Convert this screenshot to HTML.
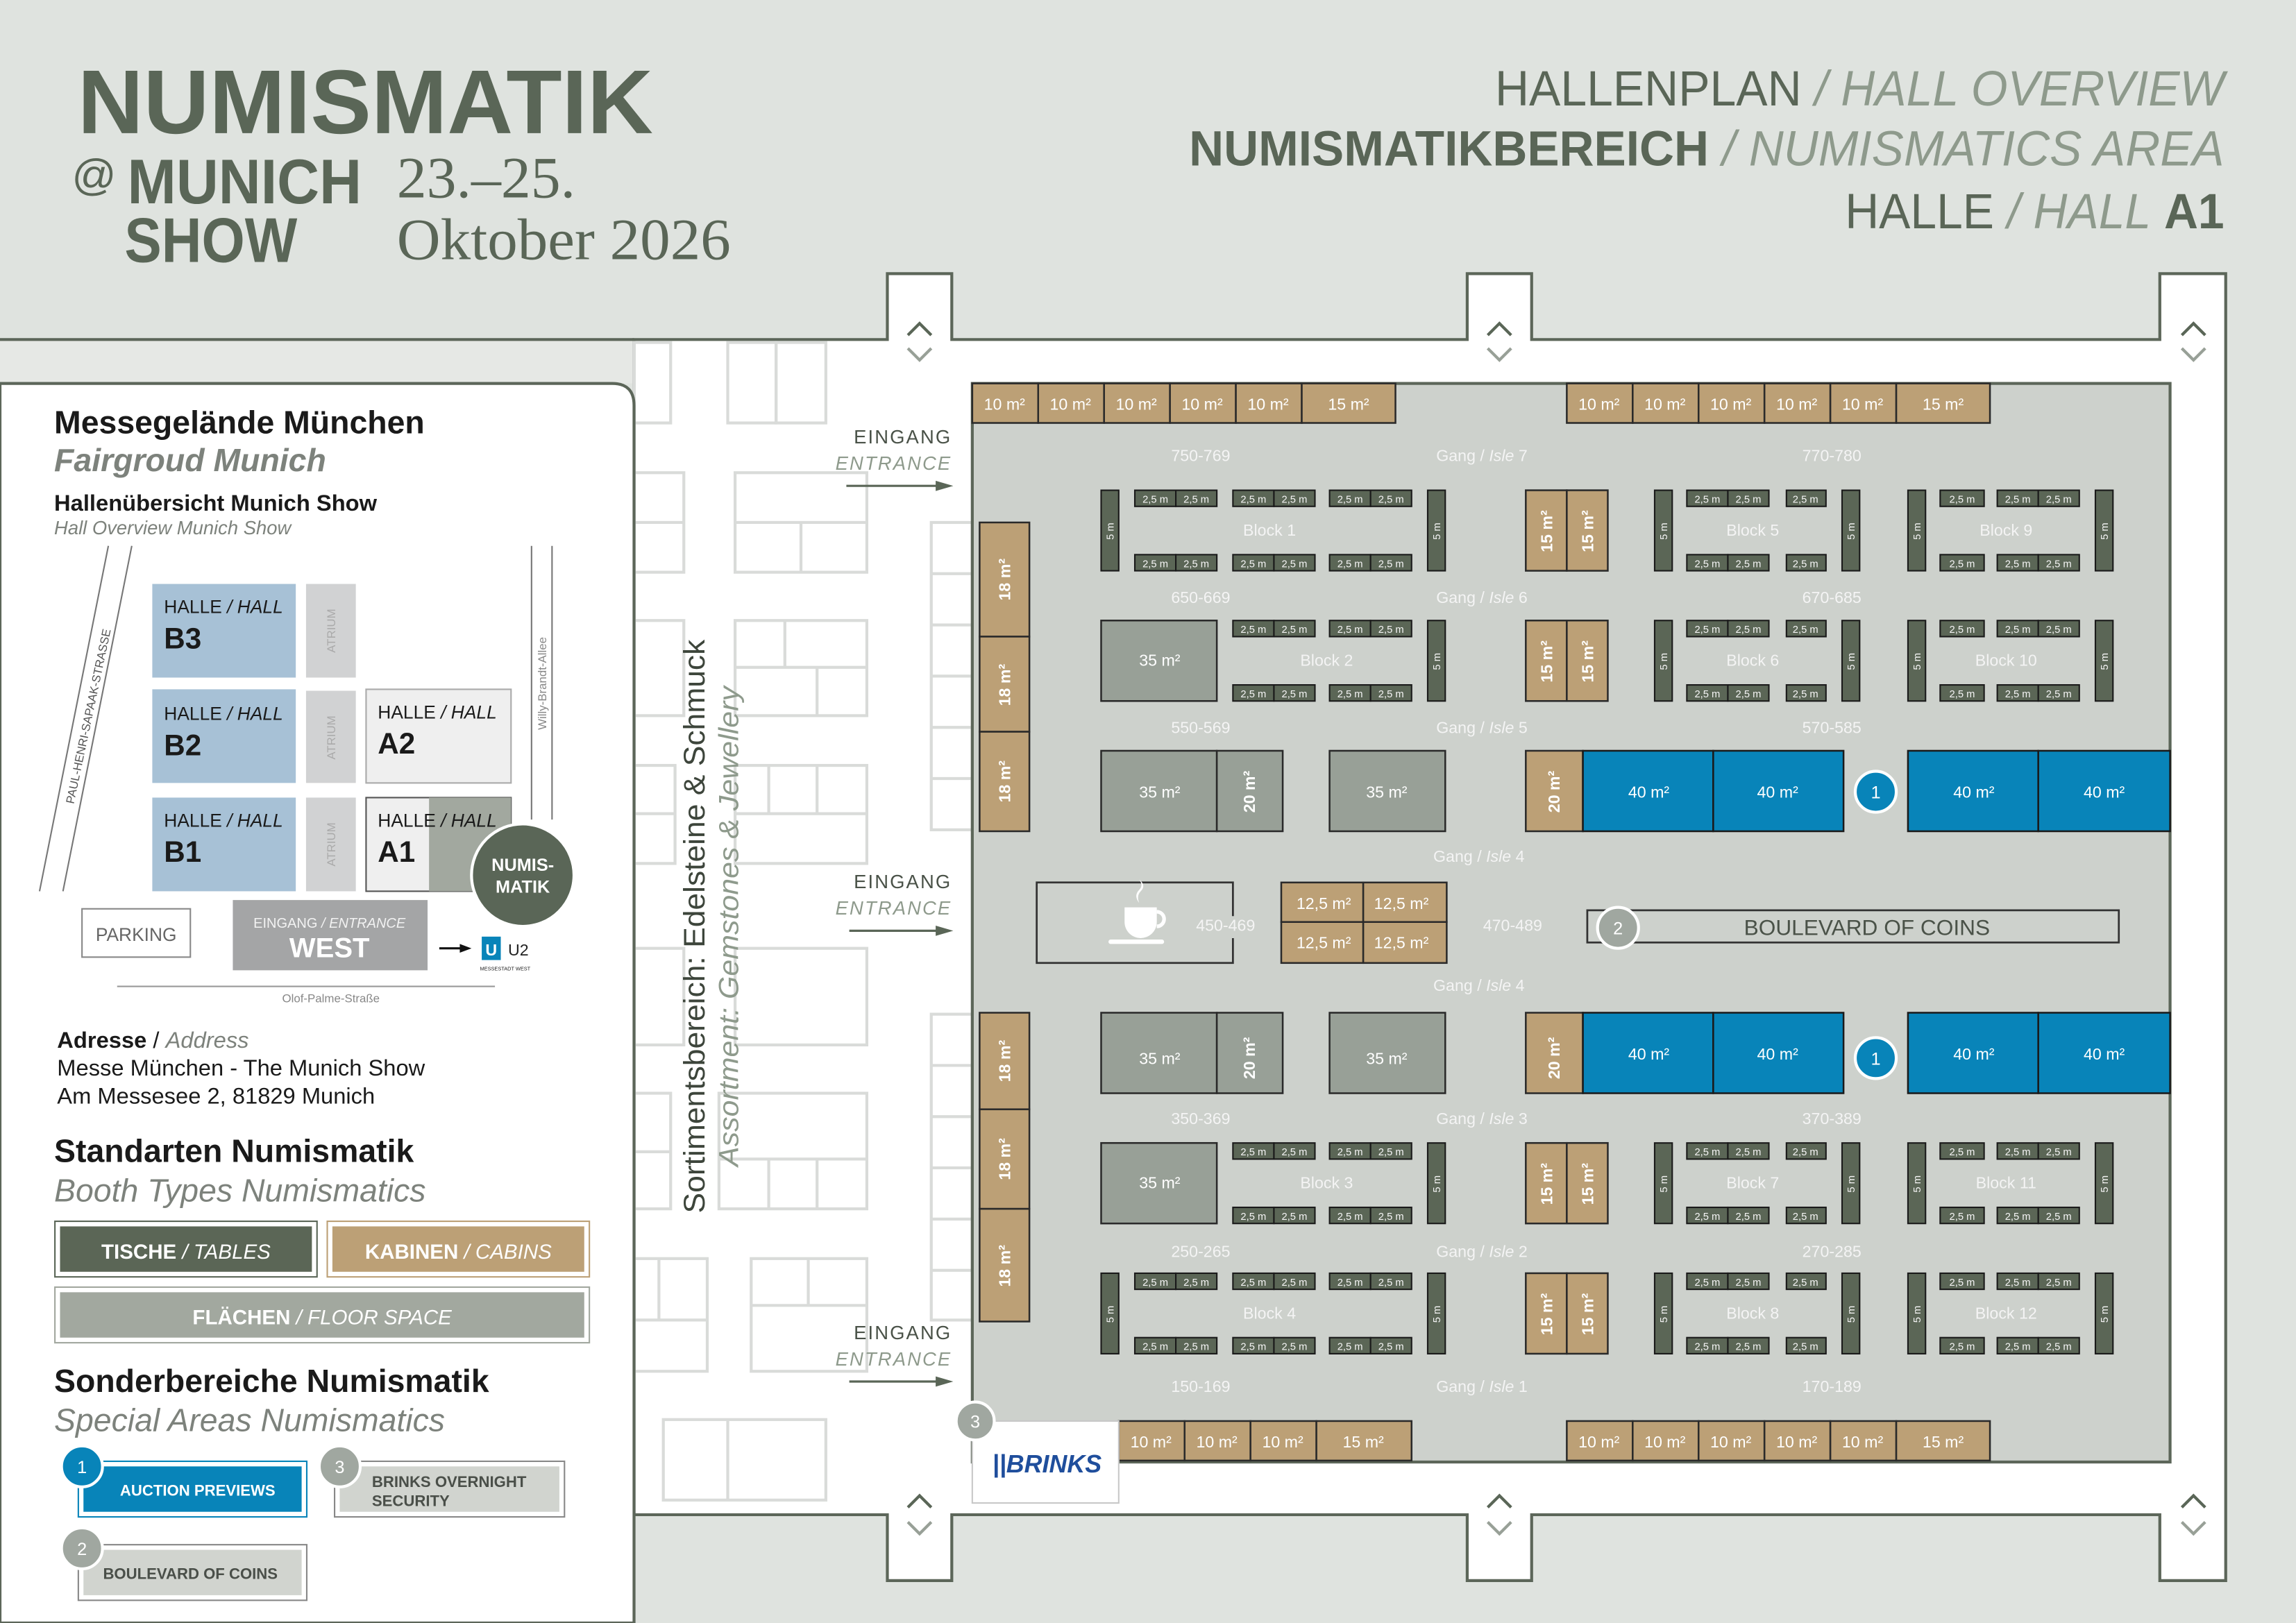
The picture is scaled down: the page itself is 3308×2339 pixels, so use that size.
<!DOCTYPE html>
<html><head><meta charset="utf-8"><style>
html,body{margin:0;padding:0;background:#dfe3df}
svg{display:block}
text{font-family:"Liberation Sans",sans-serif}
.n{font-family:"Liberation Sans Narrow","Liberation Sans",sans-serif}
.t{fill:#f4f4f4;font-size:7px;text-anchor:middle}
.c{fill:#5b6656;stroke:#1a1a1a;stroke-width:1}
.tan{fill:#bca076;stroke:#2a2a2a;stroke-width:1.2}
.fs{fill:#98a097;stroke:#2a2a2a;stroke-width:1.2}
.bl{fill:#0884b9;stroke:#1a1a1a;stroke-width:1.2}
.lb{fill:#f4f4f4;font-size:11px;text-anchor:middle}
.wl{fill:#fff;font-size:11px;text-anchor:middle}
.fr{fill:none;stroke:#d9dbd9;stroke-width:2}
</style></head><body>
<svg width="3308" height="2339" viewBox="0 0 1568 1109" preserveAspectRatio="none" xmlns="http://www.w3.org/2000/svg">
<rect x="0" y="0" width="1568" height="1109" fill="#dfe3df"/>
<!-- header -->
<text x="53" y="91" font-size="62" font-weight="bold" fill="#5a6657" class="n" textLength="393" lengthAdjust="spacingAndGlyphs">NUMISMATIK</text>
<text x="49" y="130" font-size="30" fill="#5a6657">@</text>
<text x="87" y="139" font-size="43" font-weight="bold" fill="#5a6657" class="n" textLength="160" lengthAdjust="spacingAndGlyphs">MUNICH</text>
<text x="85" y="179" font-size="43" font-weight="bold" fill="#5a6657" class="n" textLength="118" lengthAdjust="spacingAndGlyphs">SHOW</text>
<text x="271" y="135" font-size="40" fill="#5a6657" font-family="Liberation Serif" style="font-family:'Liberation Serif',serif" textLength="122" lengthAdjust="spacingAndGlyphs">23.–25.</text>
<text x="271" y="177" font-size="40" fill="#5a6657" style="font-family:'Liberation Serif',serif" textLength="228" lengthAdjust="spacingAndGlyphs">Oktober 2026</text>
<text x="1519" y="72" font-size="34" text-anchor="end" class="n" fill="#5a6657" textLength="498" lengthAdjust="spacingAndGlyphs">HALLENPLAN <tspan fill="#8e9a8c" font-style="italic">/ HALL OVERVIEW</tspan></text>
<text x="1519" y="113" font-size="34" text-anchor="end" class="n" fill="#5a6657" textLength="707" lengthAdjust="spacingAndGlyphs"><tspan font-weight="bold">NUMISMATIKBEREICH</tspan> <tspan fill="#8e9a8c" font-style="italic">/ NUMISMATICS AREA</tspan></text>
<text x="1519" y="156" font-size="34" text-anchor="end" class="n" fill="#5a6657" textLength="259" lengthAdjust="spacingAndGlyphs">HALLE <tspan fill="#8e9a8c" font-style="italic">/ HALL</tspan> <tspan font-weight="bold">A1</tspan></text>

<!-- top strip on left -->
<rect x="0" y="233" width="433" height="29" fill="#e6e8e5"/>
<line x1="0" y1="232" x2="433" y2="232" stroke="#5c6659" stroke-width="2"/>
<!-- hall white -->
<path d="M433,232 H606 V187 H650 V232 H1002 V187 H1046 V232 H1475 V187 H1520 V1080 H1475 V1035 H1046 V1080 H1002 V1035 H650 V1080 H606 V1035 H433 Z" fill="#fff" stroke="#5c6659" stroke-width="2"/>
<!-- chevrons -->
<g fill="none" stroke-width="2">
<polyline points="620,229 628,221 636,229" stroke="#5a6657"/><polyline points="620,238 628,246 636,238" stroke="#98a097"/>
<polyline points="1016,229 1024,221 1032,229" stroke="#5a6657"/><polyline points="1016,238 1024,246 1032,238" stroke="#98a097"/>
<polyline points="1490,229 1498,221 1506,229" stroke="#5a6657"/><polyline points="1490,238 1498,246 1506,238" stroke="#98a097"/>
<polyline points="620,1030 628,1022 636,1030" stroke="#5a6657"/><polyline points="620,1040 628,1048 636,1040" stroke="#98a097"/>
<polyline points="1016,1030 1024,1022 1032,1030" stroke="#5a6657"/><polyline points="1016,1040 1024,1048 1032,1040" stroke="#98a097"/>
<polyline points="1490,1030 1498,1022 1506,1030" stroke="#5a6657"/><polyline points="1490,1040 1498,1048 1506,1040" stroke="#98a097"/>
</g>
<!-- faint corridor rects -->
<g class="fr">
<rect x="433" y="234" width="25" height="55"/><rect x="497" y="234" width="33" height="55"/><rect x="530" y="234" width="34" height="55"/>
<rect x="433" y="323" width="34" height="68"/><line x1="433" y1="357" x2="467" y2="357"/>
<rect x="502" y="323" width="90" height="68"/><line x1="502" y1="357" x2="592" y2="357"/><line x1="547" y1="357" x2="547" y2="391"/>
<rect x="433" y="424" width="34" height="65"/>
<rect x="502" y="424" width="90" height="65"/><line x1="502" y1="456" x2="592" y2="456"/><line x1="536" y1="424" x2="536" y2="456"/><line x1="558" y1="456" x2="558" y2="489"/>
<rect x="433" y="523" width="28" height="67"/><line x1="433" y1="556" x2="461" y2="556"/>
<rect x="502" y="523" width="90" height="67"/><line x1="502" y1="556" x2="592" y2="556"/><line x1="525" y1="523" x2="525" y2="556"/><line x1="558" y1="523" x2="558" y2="556"/>
<rect x="433" y="648" width="34" height="66"/><rect x="502" y="648" width="90" height="66"/>
<rect x="433" y="747" width="25" height="79"/><line x1="433" y1="787" x2="458" y2="787"/>
<rect x="491" y="747" width="101" height="79"/><line x1="491" y1="792" x2="592" y2="792"/><line x1="525" y1="792" x2="525" y2="826"/><line x1="558" y1="792" x2="558" y2="826"/>
<rect x="433" y="860" width="50" height="77"/><line x1="433" y1="902" x2="483" y2="902"/><line x1="450" y1="860" x2="450" y2="902"/>
<rect x="513" y="860" width="79" height="77"/><line x1="513" y1="892" x2="592" y2="892"/><line x1="552" y1="860" x2="552" y2="892"/>
<rect x="453" y="970" width="111" height="55"/><line x1="497" y1="970" x2="497" y2="1025"/>
<rect x="636" y="357" width="28" height="210"/><line x1="636" y1="392" x2="664" y2="392"/><line x1="636" y1="427" x2="664" y2="427"/><line x1="636" y1="462" x2="664" y2="462"/><line x1="636" y1="497" x2="664" y2="497"/><line x1="636" y1="532" x2="664" y2="532"/>
<rect x="636" y="693" width="28" height="209"/><line x1="636" y1="728" x2="664" y2="728"/><line x1="636" y1="763" x2="664" y2="763"/><line x1="636" y1="798" x2="664" y2="798"/><line x1="636" y1="833" x2="664" y2="833"/><line x1="636" y1="868" x2="664" y2="868"/>
</g>
<text transform="translate(481,633) rotate(-90)" text-anchor="middle" font-size="20" fill="#3d453b" class="n" textLength="392" lengthAdjust="spacingAndGlyphs">Sortimentsbereich: Edelsteine &amp; Schmuck</text>
<text transform="translate(504,633) rotate(-90)" text-anchor="middle" font-size="19" fill="#8e9a8c" font-style="italic" class="n" textLength="328" lengthAdjust="spacingAndGlyphs">Assortment: Gemstones &amp; Jewellery</text>
<!-- entrances -->
<g font-size="13" text-anchor="end" fill="#4a5248" letter-spacing="1">
<text x="650" y="303">EINGANG</text><text x="650" y="321" font-style="italic" fill="#8e9a8c">ENTRANCE</text>
<text x="650" y="607">EINGANG</text><text x="650" y="625" font-style="italic" fill="#8e9a8c">ENTRANCE</text>
<text x="650" y="915">EINGANG</text><text x="650" y="933" font-style="italic" fill="#8e9a8c">ENTRANCE</text>
</g>
<g stroke="#5a6657" stroke-width="1.5"><line x1="578" y1="332" x2="642" y2="332"/><line x1="580" y1="636" x2="642" y2="636"/><line x1="580" y1="944" x2="642" y2="944"/></g>
<g fill="#5a6657"><polygon points="651,332 639,328.5 639,335.5"/><polygon points="651,636 639,632.5 639,639.5"/><polygon points="651,944 639,940.5 639,947.5"/></g>

<!-- floor -->
<rect x="664" y="262" width="818" height="737" fill="#cdd1cc" stroke="#5c6659" stroke-width="2"/>
<!-- top cabins -->
<g class="tan"><rect x="664" y="262" width="45" height="27"/><rect x="709" y="262" width="45" height="27"/><rect x="754" y="262" width="45" height="27"/><rect x="799" y="262" width="45" height="27"/><rect x="844" y="262" width="45" height="27"/><rect x="889" y="262" width="64" height="27"/>
<rect x="1070" y="262" width="45" height="27"/><rect x="1115" y="262" width="45" height="27"/><rect x="1160" y="262" width="45" height="27"/><rect x="1205" y="262" width="45" height="27"/><rect x="1250" y="262" width="45" height="27"/><rect x="1295" y="262" width="64" height="27"/>
<rect x="764" y="971" width="45" height="27"/><rect x="809" y="971" width="45" height="27"/><rect x="854" y="971" width="45" height="27"/><rect x="899" y="971" width="65" height="27"/>
<rect x="1070" y="971" width="45" height="27"/><rect x="1115" y="971" width="45" height="27"/><rect x="1160" y="971" width="45" height="27"/><rect x="1205" y="971" width="45" height="27"/><rect x="1250" y="971" width="45" height="27"/><rect x="1295" y="971" width="64" height="27"/>
<rect x="669" y="357" width="34" height="78"/><rect x="669" y="435" width="34" height="65"/><rect x="669" y="500" width="34" height="68"/>
<rect x="669" y="692" width="34" height="66"/><rect x="669" y="758" width="34" height="68"/><rect x="669" y="826" width="34" height="77"/>
</g>
<g class="wl n" font-size="12">
<text x="686" y="280">10 m²</text><text x="731" y="280">10 m²</text><text x="776" y="280">10 m²</text><text x="821" y="280">10 m²</text><text x="866" y="280">10 m²</text><text x="921" y="280">15 m²</text>
<text x="1092" y="280">10 m²</text><text x="1137" y="280">10 m²</text><text x="1182" y="280">10 m²</text><text x="1227" y="280">10 m²</text><text x="1272" y="280">10 m²</text><text x="1327" y="280">15 m²</text>
<text x="786" y="989">10 m²</text><text x="831" y="989">10 m²</text><text x="876" y="989">10 m²</text><text x="931" y="989">15 m²</text>
<text x="1092" y="989">10 m²</text><text x="1137" y="989">10 m²</text><text x="1182" y="989">10 m²</text><text x="1227" y="989">10 m²</text><text x="1272" y="989">10 m²</text><text x="1327" y="989">15 m²</text>
</g>
<g class="wl" font-size="11" font-weight="bold">
<text transform="translate(690,396) rotate(-90)">18 m²</text><text transform="translate(690,468) rotate(-90)">18 m²</text><text transform="translate(690,534) rotate(-90)">18 m²</text>
<text transform="translate(690,725) rotate(-90)">18 m²</text><text transform="translate(690,792) rotate(-90)">18 m²</text><text transform="translate(690,865) rotate(-90)">18 m²</text>
</g>
<!-- BRINKS -->
<rect x="664" y="971" width="100" height="56" fill="#fff" stroke="#c8c8c8" stroke-width="1"/>
<text x="715" y="1006" text-anchor="middle" font-size="17" font-weight="bold" fill="#1f4e9c" font-style="italic" class="n">||BRINKS</text>
<circle cx="666" cy="971" r="13" fill="#a0a7a0" stroke="#fff" stroke-width="2"/><text x="666" y="975.5" text-anchor="middle" font-size="12" fill="#fff">3</text>

<!-- aisle labels -->
<g class="lb n">
<text x="820" y="315">750-769</text><text x="1012" y="315">Gang / <tspan font-style="italic">Isle</tspan> 7</text><text x="1251" y="315">770-780</text>
<text x="820" y="412">650-669</text><text x="1012" y="412">Gang / <tspan font-style="italic">Isle</tspan> 6</text><text x="1251" y="412">670-685</text>
<text x="820" y="501">550-569</text><text x="1012" y="501">Gang / <tspan font-style="italic">Isle</tspan> 5</text><text x="1251" y="501">570-585</text>
<text x="1010" y="589">Gang / <tspan font-style="italic">Isle</tspan> 4</text>
<text x="837" y="636">450-469</text><text x="1033" y="636">470-489</text>
<text x="1010" y="677">Gang / <tspan font-style="italic">Isle</tspan> 4</text>
<text x="820" y="768">350-369</text><text x="1012" y="768">Gang / <tspan font-style="italic">Isle</tspan> 3</text><text x="1251" y="768">370-389</text>
<text x="820" y="859">250-265</text><text x="1012" y="859">Gang / <tspan font-style="italic">Isle</tspan> 2</text><text x="1251" y="859">270-285</text>
<text x="820" y="951">150-169</text><text x="1012" y="951">Gang / <tspan font-style="italic">Isle</tspan> 1</text><text x="1251" y="951">170-189</text>
</g>

<!-- ROW TYPE A: Block 1 -->
<g transform="translate(0,335)">
<rect class="c" x="752" y="0" width="12" height="55"/><rect class="c" x="975" y="0" width="12" height="55"/>
<rect class="c" x="775" y="0" width="28" height="11"/><rect class="c" x="803" y="0" width="28" height="11"/><rect class="c" x="842" y="0" width="28" height="11"/><rect class="c" x="870" y="0" width="28" height="11"/><rect class="c" x="908" y="0" width="28" height="11"/><rect class="c" x="936" y="0" width="28" height="11"/>
<rect class="c" x="775" y="44" width="28" height="11"/><rect class="c" x="803" y="44" width="28" height="11"/><rect class="c" x="842" y="44" width="28" height="11"/><rect class="c" x="870" y="44" width="28" height="11"/><rect class="c" x="908" y="44" width="28" height="11"/><rect class="c" x="936" y="44" width="28" height="11"/>
<g class="t n"><text x="789" y="8.5">2,5 m</text><text x="817" y="8.5">2,5 m</text><text x="856" y="8.5">2,5 m</text><text x="884" y="8.5">2,5 m</text><text x="922" y="8.5">2,5 m</text><text x="950" y="8.5">2,5 m</text>
<text x="789" y="52.5">2,5 m</text><text x="817" y="52.5">2,5 m</text><text x="856" y="52.5">2,5 m</text><text x="884" y="52.5">2,5 m</text><text x="922" y="52.5">2,5 m</text><text x="950" y="52.5">2,5 m</text></g>
<text class="t" transform="translate(760.5,28) rotate(-90)">5 m</text><text class="t" transform="translate(983.5,28) rotate(-90)">5 m</text>
<text class="lb n" x="867" y="31">Block 1</text>
</g>
<g transform="translate(0,870)">
<rect class="c" x="752" y="0" width="12" height="55"/><rect class="c" x="975" y="0" width="12" height="55"/>
<rect class="c" x="775" y="0" width="28" height="11"/><rect class="c" x="803" y="0" width="28" height="11"/><rect class="c" x="842" y="0" width="28" height="11"/><rect class="c" x="870" y="0" width="28" height="11"/><rect class="c" x="908" y="0" width="28" height="11"/><rect class="c" x="936" y="0" width="28" height="11"/>
<rect class="c" x="775" y="44" width="28" height="11"/><rect class="c" x="803" y="44" width="28" height="11"/><rect class="c" x="842" y="44" width="28" height="11"/><rect class="c" x="870" y="44" width="28" height="11"/><rect class="c" x="908" y="44" width="28" height="11"/><rect class="c" x="936" y="44" width="28" height="11"/>
<g class="t n"><text x="789" y="8.5">2,5 m</text><text x="817" y="8.5">2,5 m</text><text x="856" y="8.5">2,5 m</text><text x="884" y="8.5">2,5 m</text><text x="922" y="8.5">2,5 m</text><text x="950" y="8.5">2,5 m</text>
<text x="789" y="52.5">2,5 m</text><text x="817" y="52.5">2,5 m</text><text x="856" y="52.5">2,5 m</text><text x="884" y="52.5">2,5 m</text><text x="922" y="52.5">2,5 m</text><text x="950" y="52.5">2,5 m</text></g>
<text class="t" transform="translate(760.5,28) rotate(-90)">5 m</text><text class="t" transform="translate(983.5,28) rotate(-90)">5 m</text>
<text class="lb n" x="867" y="31">Block 4</text>
</g>
<!-- ROW TYPE B -->
<g transform="translate(0,424)">
<rect class="fs" x="752" y="0" width="79" height="55"/><text class="wl n" x="792" y="31">35 m²</text>
<rect class="c" x="975" y="0" width="12" height="55"/>
<rect class="c" x="842" y="0" width="28" height="11"/><rect class="c" x="870" y="0" width="28" height="11"/><rect class="c" x="908" y="0" width="28" height="11"/><rect class="c" x="936" y="0" width="28" height="11"/>
<rect class="c" x="842" y="44" width="28" height="11"/><rect class="c" x="870" y="44" width="28" height="11"/><rect class="c" x="908" y="44" width="28" height="11"/><rect class="c" x="936" y="44" width="28" height="11"/>
<g class="t n"><text x="856" y="8.5">2,5 m</text><text x="884" y="8.5">2,5 m</text><text x="922" y="8.5">2,5 m</text><text x="950" y="8.5">2,5 m</text>
<text x="856" y="52.5">2,5 m</text><text x="884" y="52.5">2,5 m</text><text x="922" y="52.5">2,5 m</text><text x="950" y="52.5">2,5 m</text></g>
<text class="t" transform="translate(983.5,28) rotate(-90)">5 m</text>
<text class="lb n" x="906" y="31">Block 2</text>
</g>
<g transform="translate(0,781)">
<rect class="fs" x="752" y="0" width="79" height="55"/><text class="wl n" x="792" y="31">35 m²</text>
<rect class="c" x="975" y="0" width="12" height="55"/>
<rect class="c" x="842" y="0" width="28" height="11"/><rect class="c" x="870" y="0" width="28" height="11"/><rect class="c" x="908" y="0" width="28" height="11"/><rect class="c" x="936" y="0" width="28" height="11"/>
<rect class="c" x="842" y="44" width="28" height="11"/><rect class="c" x="870" y="44" width="28" height="11"/><rect class="c" x="908" y="44" width="28" height="11"/><rect class="c" x="936" y="44" width="28" height="11"/>
<g class="t n"><text x="856" y="8.5">2,5 m</text><text x="884" y="8.5">2,5 m</text><text x="922" y="8.5">2,5 m</text><text x="950" y="8.5">2,5 m</text>
<text x="856" y="52.5">2,5 m</text><text x="884" y="52.5">2,5 m</text><text x="922" y="52.5">2,5 m</text><text x="950" y="52.5">2,5 m</text></g>
<text class="t" transform="translate(983.5,28) rotate(-90)">5 m</text>
<text class="lb n" x="906" y="31">Block 3</text>
</g>

<!-- RIGHT BLOCKS rows 335,424,781,870 -->
<g transform="translate(0,335)">
<rect class="tan" x="1042" y="0" width="28" height="55"/><rect class="tan" x="1070" y="0" width="28" height="55"/>
<text class="wl" font-weight="bold" font-size="10" transform="translate(1060,28) rotate(-90)">15 m²</text><text class="wl" font-weight="bold" font-size="10" transform="translate(1088,28) rotate(-90)">15 m²</text>
<rect class="c" x="1130" y="0" width="12" height="55"/><rect class="c" x="1258" y="0" width="12" height="55"/><rect class="c" x="1303" y="0" width="12" height="55"/><rect class="c" x="1431" y="0" width="12" height="55"/>
<rect class="c" x="1152" y="0" width="28" height="11"/><rect class="c" x="1180" y="0" width="28" height="11"/><rect class="c" x="1220" y="0" width="27" height="11"/><rect class="c" x="1325" y="0" width="30" height="11"/><rect class="c" x="1364" y="0" width="28" height="11"/><rect class="c" x="1392" y="0" width="28" height="11"/>
<rect class="c" x="1152" y="44" width="28" height="11"/><rect class="c" x="1180" y="44" width="28" height="11"/><rect class="c" x="1220" y="44" width="27" height="11"/><rect class="c" x="1325" y="44" width="30" height="11"/><rect class="c" x="1364" y="44" width="28" height="11"/><rect class="c" x="1392" y="44" width="28" height="11"/>
<g class="t n"><text x="1166" y="8.5">2,5 m</text><text x="1194" y="8.5">2,5 m</text><text x="1233" y="8.5">2,5 m</text><text x="1340" y="8.5">2,5 m</text><text x="1378" y="8.5">2,5 m</text><text x="1406" y="8.5">2,5 m</text>
<text x="1166" y="52.5">2,5 m</text><text x="1194" y="52.5">2,5 m</text><text x="1233" y="52.5">2,5 m</text><text x="1340" y="52.5">2,5 m</text><text x="1378" y="52.5">2,5 m</text><text x="1406" y="52.5">2,5 m</text></g>
<text class="t" transform="translate(1138.5,28) rotate(-90)">5 m</text><text class="t" transform="translate(1266.5,28) rotate(-90)">5 m</text><text class="t" transform="translate(1311.5,28) rotate(-90)">5 m</text><text class="t" transform="translate(1439.5,28) rotate(-90)">5 m</text>
<text class="lb n" x="1197" y="31">Block 5</text><text class="lb n" x="1370" y="31">Block 9</text>
</g>
<g transform="translate(0,424)">
<rect class="tan" x="1042" y="0" width="28" height="55"/><rect class="tan" x="1070" y="0" width="28" height="55"/>
<text class="wl" font-weight="bold" font-size="10" transform="translate(1060,28) rotate(-90)">15 m²</text><text class="wl" font-weight="bold" font-size="10" transform="translate(1088,28) rotate(-90)">15 m²</text>
<rect class="c" x="1130" y="0" width="12" height="55"/><rect class="c" x="1258" y="0" width="12" height="55"/><rect class="c" x="1303" y="0" width="12" height="55"/><rect class="c" x="1431" y="0" width="12" height="55"/>
<rect class="c" x="1152" y="0" width="28" height="11"/><rect class="c" x="1180" y="0" width="28" height="11"/><rect class="c" x="1220" y="0" width="27" height="11"/><rect class="c" x="1325" y="0" width="30" height="11"/><rect class="c" x="1364" y="0" width="28" height="11"/><rect class="c" x="1392" y="0" width="28" height="11"/>
<rect class="c" x="1152" y="44" width="28" height="11"/><rect class="c" x="1180" y="44" width="28" height="11"/><rect class="c" x="1220" y="44" width="27" height="11"/><rect class="c" x="1325" y="44" width="30" height="11"/><rect class="c" x="1364" y="44" width="28" height="11"/><rect class="c" x="1392" y="44" width="28" height="11"/>
<g class="t n"><text x="1166" y="8.5">2,5 m</text><text x="1194" y="8.5">2,5 m</text><text x="1233" y="8.5">2,5 m</text><text x="1340" y="8.5">2,5 m</text><text x="1378" y="8.5">2,5 m</text><text x="1406" y="8.5">2,5 m</text>
<text x="1166" y="52.5">2,5 m</text><text x="1194" y="52.5">2,5 m</text><text x="1233" y="52.5">2,5 m</text><text x="1340" y="52.5">2,5 m</text><text x="1378" y="52.5">2,5 m</text><text x="1406" y="52.5">2,5 m</text></g>
<text class="t" transform="translate(1138.5,28) rotate(-90)">5 m</text><text class="t" transform="translate(1266.5,28) rotate(-90)">5 m</text><text class="t" transform="translate(1311.5,28) rotate(-90)">5 m</text><text class="t" transform="translate(1439.5,28) rotate(-90)">5 m</text>
<text class="lb n" x="1197" y="31">Block 6</text><text class="lb n" x="1370" y="31">Block 10</text>
</g>
<g transform="translate(0,781)">
<rect class="tan" x="1042" y="0" width="28" height="55"/><rect class="tan" x="1070" y="0" width="28" height="55"/>
<text class="wl" font-weight="bold" font-size="10" transform="translate(1060,28) rotate(-90)">15 m²</text><text class="wl" font-weight="bold" font-size="10" transform="translate(1088,28) rotate(-90)">15 m²</text>
<rect class="c" x="1130" y="0" width="12" height="55"/><rect class="c" x="1258" y="0" width="12" height="55"/><rect class="c" x="1303" y="0" width="12" height="55"/><rect class="c" x="1431" y="0" width="12" height="55"/>
<rect class="c" x="1152" y="0" width="28" height="11"/><rect class="c" x="1180" y="0" width="28" height="11"/><rect class="c" x="1220" y="0" width="27" height="11"/><rect class="c" x="1325" y="0" width="30" height="11"/><rect class="c" x="1364" y="0" width="28" height="11"/><rect class="c" x="1392" y="0" width="28" height="11"/>
<rect class="c" x="1152" y="44" width="28" height="11"/><rect class="c" x="1180" y="44" width="28" height="11"/><rect class="c" x="1220" y="44" width="27" height="11"/><rect class="c" x="1325" y="44" width="30" height="11"/><rect class="c" x="1364" y="44" width="28" height="11"/><rect class="c" x="1392" y="44" width="28" height="11"/>
<g class="t n"><text x="1166" y="8.5">2,5 m</text><text x="1194" y="8.5">2,5 m</text><text x="1233" y="8.5">2,5 m</text><text x="1340" y="8.5">2,5 m</text><text x="1378" y="8.5">2,5 m</text><text x="1406" y="8.5">2,5 m</text>
<text x="1166" y="52.5">2,5 m</text><text x="1194" y="52.5">2,5 m</text><text x="1233" y="52.5">2,5 m</text><text x="1340" y="52.5">2,5 m</text><text x="1378" y="52.5">2,5 m</text><text x="1406" y="52.5">2,5 m</text></g>
<text class="t" transform="translate(1138.5,28) rotate(-90)">5 m</text><text class="t" transform="translate(1266.5,28) rotate(-90)">5 m</text><text class="t" transform="translate(1311.5,28) rotate(-90)">5 m</text><text class="t" transform="translate(1439.5,28) rotate(-90)">5 m</text>
<text class="lb n" x="1197" y="31">Block 7</text><text class="lb n" x="1370" y="31">Block 11</text>
</g>
<g transform="translate(0,870)">
<rect class="tan" x="1042" y="0" width="28" height="55"/><rect class="tan" x="1070" y="0" width="28" height="55"/>
<text class="wl" font-weight="bold" font-size="10" transform="translate(1060,28) rotate(-90)">15 m²</text><text class="wl" font-weight="bold" font-size="10" transform="translate(1088,28) rotate(-90)">15 m²</text>
<rect class="c" x="1130" y="0" width="12" height="55"/><rect class="c" x="1258" y="0" width="12" height="55"/><rect class="c" x="1303" y="0" width="12" height="55"/><rect class="c" x="1431" y="0" width="12" height="55"/>
<rect class="c" x="1152" y="0" width="28" height="11"/><rect class="c" x="1180" y="0" width="28" height="11"/><rect class="c" x="1220" y="0" width="27" height="11"/><rect class="c" x="1325" y="0" width="30" height="11"/><rect class="c" x="1364" y="0" width="28" height="11"/><rect class="c" x="1392" y="0" width="28" height="11"/>
<rect class="c" x="1152" y="44" width="28" height="11"/><rect class="c" x="1180" y="44" width="28" height="11"/><rect class="c" x="1220" y="44" width="27" height="11"/><rect class="c" x="1325" y="44" width="30" height="11"/><rect class="c" x="1364" y="44" width="28" height="11"/><rect class="c" x="1392" y="44" width="28" height="11"/>
<g class="t n"><text x="1166" y="8.5">2,5 m</text><text x="1194" y="8.5">2,5 m</text><text x="1233" y="8.5">2,5 m</text><text x="1340" y="8.5">2,5 m</text><text x="1378" y="8.5">2,5 m</text><text x="1406" y="8.5">2,5 m</text>
<text x="1166" y="52.5">2,5 m</text><text x="1194" y="52.5">2,5 m</text><text x="1233" y="52.5">2,5 m</text><text x="1340" y="52.5">2,5 m</text><text x="1378" y="52.5">2,5 m</text><text x="1406" y="52.5">2,5 m</text></g>
<text class="t" transform="translate(1138.5,28) rotate(-90)">5 m</text><text class="t" transform="translate(1266.5,28) rotate(-90)">5 m</text><text class="t" transform="translate(1311.5,28) rotate(-90)">5 m</text><text class="t" transform="translate(1439.5,28) rotate(-90)">5 m</text>
<text class="lb n" x="1197" y="31">Block 8</text><text class="lb n" x="1370" y="31">Block 12</text>
</g>

<!-- rows 3 and 4 -->
<g transform="translate(0,513)">
<rect class="fs" x="752" y="0" width="79" height="55"/><rect class="fs" x="831" y="0" width="45" height="55"/><rect class="fs" x="908" y="0" width="79" height="55"/>
<text class="wl n" x="792" y="32">35 m²</text><text class="wl n" x="947" y="32">35 m²</text>
<text class="wl" font-weight="bold" font-size="11" transform="translate(857,28) rotate(-90)">20 m²</text>
<rect class="tan" x="1042" y="0" width="39" height="55"/>
<text class="wl" font-weight="bold" font-size="11" transform="translate(1065,28) rotate(-90)">20 m²</text>
<rect class="bl" x="1081" y="0" width="89" height="55"/><rect class="bl" x="1170" y="0" width="89" height="55"/><rect class="bl" x="1303" y="0" width="89" height="55"/><rect class="bl" x="1392" y="0" width="90" height="55"/>
<text class="wl n" x="1126" y="32">40 m²</text><text class="wl n" x="1214" y="32">40 m²</text><text class="wl n" x="1348" y="32">40 m²</text><text class="wl n" x="1437" y="32">40 m²</text>
<circle cx="1281" cy="28" r="14" fill="#0884b9" stroke="#fff" stroke-width="2"/><text x="1281" y="32.5" text-anchor="middle" font-size="12" fill="#fff">1</text>
</g>
<g transform="translate(0,692)">
<rect class="fs" x="752" y="0" width="79" height="55"/><rect class="fs" x="831" y="0" width="45" height="55"/><rect class="fs" x="908" y="0" width="79" height="55"/>
<text class="wl n" x="792" y="35">35 m²</text><text class="wl n" x="947" y="35">35 m²</text>
<text class="wl" font-weight="bold" font-size="11" transform="translate(857,31) rotate(-90)">20 m²</text>
<rect class="tan" x="1042" y="0" width="39" height="55"/>
<text class="wl" font-weight="bold" font-size="11" transform="translate(1065,31) rotate(-90)">20 m²</text>
<rect class="bl" x="1081" y="0" width="89" height="55"/><rect class="bl" x="1170" y="0" width="89" height="55"/><rect class="bl" x="1303" y="0" width="89" height="55"/><rect class="bl" x="1392" y="0" width="90" height="55"/>
<text class="wl n" x="1126" y="32">40 m²</text><text class="wl n" x="1214" y="32">40 m²</text><text class="wl n" x="1348" y="32">40 m²</text><text class="wl n" x="1437" y="32">40 m²</text>
<circle cx="1281" cy="31" r="14" fill="#0884b9" stroke="#fff" stroke-width="2"/><text x="1281" y="35.5" text-anchor="middle" font-size="12" fill="#fff">1</text>
</g>

<!-- middle row -->
<path d="M842,626 V603 H708 V658 H842 V641" fill="none" stroke="#333" stroke-width="1.3"/>
<g fill="#fff"><path d="M768,620 h22 v10 a11,11 0 0 1 -22,0 z"/><path d="M790,623 a5,5 0 0 1 0,10" fill="none" stroke="#fff" stroke-width="2.5"/><rect x="757" y="642" width="38" height="3" rx="1.5"/><path d="M778,617 q-4,-5 0,-9 q3,-3 0,-7 q5,4 1,8 q-3,3 -1,8z"/></g>
<g class="tan"><rect x="875" y="603" width="56" height="27"/><rect x="931" y="603" width="57" height="27"/><rect x="875" y="630" width="56" height="28"/><rect x="931" y="630" width="57" height="28"/></g>
<g class="wl n" font-size="12"><text x="904" y="621">12,5 m²</text><text x="957" y="621">12,5 m²</text><text x="904" y="648">12,5 m²</text><text x="957" y="648">12,5 m²</text></g>
<rect x="1084" y="622" width="363" height="22" fill="none" stroke="#333" stroke-width="1.3"/>
<text x="1275" y="639" text-anchor="middle" font-size="15" fill="#4a5248" class="n">BOULEVARD OF COINS</text>
<circle cx="1105" cy="634" r="14" fill="#a0a7a0" stroke="#fff" stroke-width="2"/><text x="1105" y="638.5" text-anchor="middle" font-size="12" fill="#fff">2</text>

<!-- left panel -->
<path d="M0,262 H418 Q433,262 433,277 V1109 H0 Z" fill="#fff" stroke="#5c6659" stroke-width="2"/>
<text x="37" y="296" font-size="22" fill="#1a1a1a" font-weight="bold" style="font-weight:600">Messegelände München</text>
<text x="37" y="322" font-size="22" fill="#7d827c" font-style="italic" font-weight="bold">Fairgroud Munich</text>
<text x="37" y="349" font-size="15.5" fill="#1a1a1a" font-weight="bold">Hallenübersicht Munich Show</text>
<text x="37" y="365" font-size="13" fill="#7d827c" font-style="italic">Hall Overview Munich Show</text>
<!-- mini map -->
<g stroke="#777" stroke-width="1" fill="none"><line x1="74" y1="373" x2="27" y2="609"/><line x1="90" y1="373" x2="43" y2="609"/><line x1="363" y1="373" x2="363" y2="560"/><line x1="377" y1="373" x2="377" y2="560"/></g>
<text transform="translate(63,490) rotate(-78)" text-anchor="middle" font-size="8" fill="#555">PAUL-HENRI-SAPAAK-STRASSE</text>
<text transform="translate(373,467) rotate(-90)" text-anchor="middle" font-size="8" fill="#888">Willy-Brandt-Allee</text>
<g fill="#a7c1d6"><rect x="104" y="399" width="98" height="64"/><rect x="104" y="471" width="98" height="64"/><rect x="104" y="545" width="98" height="64"/></g>
<g fill="#d1d2d3"><rect x="209" y="399" width="34" height="64"/><rect x="209" y="472" width="34" height="63"/><rect x="209" y="545" width="34" height="64"/></g>
<g font-size="8" fill="#aaa" text-anchor="middle"><text transform="translate(229,431) rotate(-90)">ATRIUM</text><text transform="translate(229,504) rotate(-90)">ATRIUM</text><text transform="translate(229,577) rotate(-90)">ATRIUM</text></g>
<rect x="250" y="471" width="99" height="64" fill="#efefef" stroke="#aaa" stroke-width="1"/>
<rect x="250" y="545" width="99" height="64" fill="#efefef" stroke="#555" stroke-width="1"/>
<rect x="293" y="545" width="56" height="64" fill="#a2a89f"/>
<g fill="#1a1a1a"><text x="112" y="419" font-size="12.5">HALLE <tspan font-style="italic">/ HALL</tspan></text><text x="112" y="443" font-size="20" font-weight="bold">B3</text>
<text x="112" y="492" font-size="12.5">HALLE <tspan font-style="italic">/ HALL</tspan></text><text x="112" y="516" font-size="20" font-weight="bold">B2</text>
<text x="112" y="565" font-size="12.5">HALLE <tspan font-style="italic">/ HALL</tspan></text><text x="112" y="589" font-size="20" font-weight="bold">B1</text>
<text x="258" y="491" font-size="12.5">HALLE <tspan font-style="italic">/ HALL</tspan></text><text x="258" y="515" font-size="20" font-weight="bold">A2</text>
<text x="258" y="565" font-size="12.5">HALLE <tspan font-style="italic">/ HALL</tspan></text><text x="258" y="589" font-size="20" font-weight="bold">A1</text></g>
<circle cx="357" cy="598" r="35" fill="#5a6657" stroke="#fff" stroke-width="2"/>
<text x="357" y="595" text-anchor="middle" font-size="12" font-weight="bold" fill="#fff">NUMIS-</text><text x="357" y="610" text-anchor="middle" font-size="12" font-weight="bold" fill="#fff">MATIK</text>
<rect x="56" y="621" width="74" height="33" fill="none" stroke="#888" stroke-width="1"/><text x="93" y="643" text-anchor="middle" font-size="12.5" fill="#666">PARKING</text>
<rect x="159" y="615" width="133" height="48" fill="#a4a5a6"/>
<text x="225" y="634" text-anchor="middle" font-size="9.5" fill="#f2f2f2">EINGANG <tspan font-style="italic">/ ENTRANCE</tspan></text>
<text x="225" y="654" text-anchor="middle" font-size="19" font-weight="bold" fill="#fff">WEST</text>
<line x1="300" y1="648" x2="316" y2="648" stroke="#111" stroke-width="1.5"/><polygon points="322,648 314,645 314,651" fill="#111"/>
<rect x="329" y="640" width="13" height="16" fill="#0884b9"/><text x="335.5" y="653" text-anchor="middle" font-size="11" font-weight="bold" fill="#fff">U</text>
<text x="347" y="653" font-size="11" fill="#222">U2</text>
<text x="345" y="663" text-anchor="middle" font-size="3.5" fill="#222">MESSESTADT WEST</text>
<line x1="80" y1="674" x2="338" y2="674" stroke="#999" stroke-width="1"/>
<text x="226" y="685" text-anchor="middle" font-size="8" fill="#888">Olof-Palme-Straße</text>
<g font-size="15.5" fill="#1a1a1a" font-weight="bold" style="font-weight:600">
<text x="39" y="716">Adresse <tspan font-weight="normal">/</tspan> <tspan fill="#7d827c" font-style="italic" font-weight="normal">Address</tspan></text>
<text x="39" y="735" font-weight="normal">Messe München - The Munich Show</text>
<text x="39" y="754" font-weight="normal">Am Messesee 2, 81829 Munich</text></g>
<text x="37" y="794" font-size="22" fill="#1a1a1a" font-weight="bold">Standarten Numismatik</text>
<text x="37" y="821" font-size="22" fill="#7d827c" font-style="italic">Booth Types Numismatics</text>
<rect x="37.5" y="834.5" width="179" height="38" fill="#fff" stroke="#5a6657"/><rect x="41" y="838" width="172" height="31" fill="#5b6656"/>
<text x="127" y="860" text-anchor="middle" font-size="14" fill="#fff"><tspan font-weight="bold">TISCHE</tspan> <tspan font-style="italic">/ TABLES</tspan></text>
<rect x="223.5" y="834.5" width="179" height="38" fill="#fff" stroke="#bca076"/><rect x="227" y="838" width="172" height="31" fill="#bca076"/>
<text x="313" y="860" text-anchor="middle" font-size="14" fill="#fff"><tspan font-weight="bold">KABINEN</tspan> <tspan font-style="italic">/ CABINS</tspan></text>
<rect x="37.5" y="879.5" width="365" height="38" fill="#fff" stroke="#a2a89f"/><rect x="41" y="883" width="358" height="31" fill="#a2a89f"/>
<text x="220" y="905" text-anchor="middle" font-size="14" fill="#fff"><tspan font-weight="bold">FLÄCHEN</tspan> <tspan font-style="italic">/ FLOOR SPACE</tspan></text>
<text x="37" y="951" font-size="22" fill="#1a1a1a" font-weight="bold">Sonderbereiche Numismatik</text>
<text x="37" y="978" font-size="22" fill="#7d827c" font-style="italic">Special Areas Numismatics</text>
<rect x="53.5" y="998.5" width="156" height="38" fill="#fff" stroke="#0884b9"/><rect x="57" y="1002" width="149" height="31" fill="#0884b9"/>
<text x="135" y="1022" text-anchor="middle" font-size="10.5" font-weight="bold" fill="#fff">AUCTION PREVIEWS</text>
<circle cx="56" cy="1002" r="14" fill="#0884b9" stroke="#fff" stroke-width="2"/><text x="56" y="1006.5" text-anchor="middle" font-size="12" fill="#fff">1</text>
<rect x="228.5" y="998.5" width="157" height="38" fill="#fff" stroke="#888"/><rect x="232" y="1002" width="150" height="31" fill="#d1d4cf"/>
<text x="254" y="1016" font-size="10.5" font-weight="bold" fill="#4a4f49">BRINKS OVERNIGHT</text><text x="254" y="1029" font-size="10.5" font-weight="bold" fill="#4a4f49">SECURITY</text>
<circle cx="232" cy="1002" r="14" fill="#a0a7a0" stroke="#fff" stroke-width="2"/><text x="232" y="1006.5" text-anchor="middle" font-size="12" fill="#fff">3</text>
<rect x="53.5" y="1055.5" width="156" height="38" fill="#fff" stroke="#888"/><rect x="57" y="1059" width="149" height="31" fill="#d1d4cf"/>
<text x="130" y="1079" text-anchor="middle" font-size="10.5" font-weight="bold" fill="#4a4f49">BOULEVARD OF COINS</text>
<circle cx="56" cy="1058" r="14" fill="#a0a7a0" stroke="#fff" stroke-width="2"/><text x="56" y="1062.5" text-anchor="middle" font-size="12" fill="#fff">2</text>
</svg>
</body></html>
